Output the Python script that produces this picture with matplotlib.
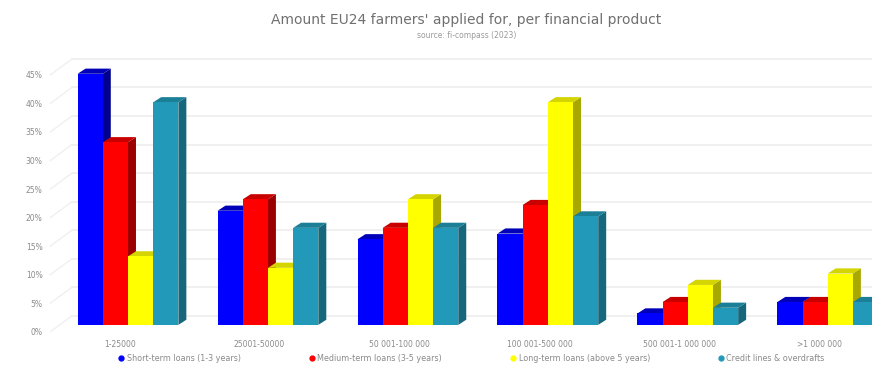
import numpy as np
import matplotlib.pyplot as plt
from matplotlib.patches import Polygon
from matplotlib.lines import Line2D

categories = ["1-25000", "25001-50000", "50 001-100 000", "100 001-500 000",
              "500 001-1 000 000", ">1 000 000"]
short_term = [44, 20, 15, 16, 2, 4]
medium_term = [32, 22, 17, 21, 4, 4]
long_term = [12, 10, 22, 39, 7, 9]
credit_lines = [39, 17, 17, 19, 3, 4]
series_names = ["Short-term loans (1-3 years)", "Medium-term loans (3-5 years)",
                "Long-term loans (above 5 years)", "Credit lines & overdrafts"]
y_ticks = [0, 5, 10, 15, 20, 25, 30, 35, 40, 45]

series = [short_term, medium_term, long_term, credit_lines]
# front, side, top colours
colours = [("#0000FF", "#00008C", "#0000B8"),
           ("#FF0000", "#9A0000", "#C80000"),
           ("#FFFF00", "#A8A800", "#D4D400"),
           ("#2299B8", "#16677C", "#1C7F98")]

fig = plt.figure(figsize=(8.72, 3.69), dpi=100)
ax = fig.add_axes([0.0505, 0.101, 0.995, 0.761])
ax.set_xlim(-0.6, 5.6)
ax.set_ylim(-1, 48)

width = 0.18
dx, dy = 0.057, 0.9   # bar depth
wall = 1.6            # back wall offset of gridlines
lab_off = -1.2        # tick labels sit a bit below the floor level

# back wall gridlines and left wall diagonals
for v in y_ticks:
    ax.plot([-0.4, 5.6], [v + wall, v + wall], color="#ECECEC", lw=1.1, zorder=0)
    ax.plot([-0.555, -0.4], [v + lab_off, v + wall], color="#F0F0F0", lw=1.0, zorder=0)

x = np.arange(len(categories))
z = 2
for i, (vals, (cf, cs, ct)) in enumerate(zip(series, colours)):
    pos = x + (i - 1.5) * width
    for xp, v in zip(pos, vals):
        l, r = xp - width / 2, xp + width / 2
        ax.add_patch(Polygon([(r, 0), (r + dx, dy), (r + dx, v + dy), (r, v)],
                             closed=True, fc=cs, ec="none", zorder=z))
        ax.add_patch(Polygon([(l, v), (r, v), (r + dx, v + dy), (l + dx, v + dy)],
                             closed=True, fc=ct, ec="none", zorder=z))
    ax.bar(pos, vals, width=width, color=cf, zorder=z + 0.5)
    z += 1

ax.set_yticks([v + lab_off for v in y_ticks], [f"{v}%" for v in y_ticks])
ax.set_xticks(x - 0.06, categories)
ax.tick_params(axis="both", length=0, labelsize=5.5, labelcolor="#8A8A8A")
ax.tick_params(axis="x", pad=6)
ax.tick_params(axis="y", pad=1)
for s in ax.spines.values():
    s.set_visible(False)

fig.text(0.535, 0.947, "Amount EU24 farmers' applied for, per financial product",
         ha="center", va="center", fontsize=10, color="#707070")
fig.text(0.535, 0.903, "source: fi-compass (2023)", ha="center", va="center",
         fontsize=5.5, color="#9A9A9A")

handles = [Line2D([], [], marker="o", ls="none", ms=3.5, color=c[0]) for c in colours]
fig.legend(handles, series_names, loc="center", bbox_to_anchor=(0.54, 0.028), ncol=4,
           frameon=False, fontsize=5.8, labelcolor="#8A8A8A", handletextpad=0.2,
           columnspacing=8.3, handlelength=1)

fig.savefig("out.png", dpi=100)
